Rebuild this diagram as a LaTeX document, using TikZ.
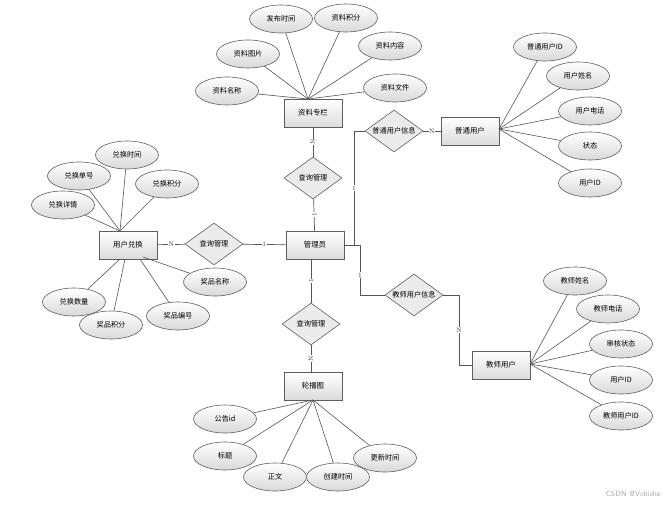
\documentclass[tikz,border=0pt]{standalone}
\usepackage{fontspec}
\newfontfamily\cjk{Noto Sans CJK SC}
\usetikzlibrary{shapes.geometric}
\definecolor{lnc}{HTML}{555555}
\definecolor{bdc}{HTML}{5E5E5E}
\tikzset{
  ent/.style={draw=bdc, line width=0.9pt, top color=white, bottom color=black!14, minimum width=58pt, minimum height=28pt, inner sep=0pt, font=\cjk\fontsize{7.4}{8}\selectfont},
  attr/.style={ellipse, draw=bdc, line width=0.6pt, top color=white, bottom color=black!15, minimum width=63pt, minimum height=28pt, inner sep=0pt, font=\cjk\fontsize{7.2}{8}\selectfont},
  rel/.style={diamond, aspect=1.4, draw=bdc, line width=0.6pt, fill=black!8, minimum width=58pt, minimum height=42pt, inner sep=0pt, font=\cjk\fontsize{7.2}{8}\selectfont},
  cn/.style={draw=lnc, line width=0.7pt},
  al/.style={draw=lnc, line width=0.6pt},
  lab/.style={fill=white, inner sep=0.5pt, font=\fontsize{6.5}{7}\selectfont, text=black!80},
}
\begin{document}
\begin{tikzpicture}[x=1pt,y=-1pt]
\useasboundingbox (0,0) rectangle (670,508);
% entities
\node[ent] (zl) at (313,113) {资料专栏};
\node[ent] (gly) at (315,245) {管理员};
\node[ent] (pt) at (470,131) {普通用户};
\node[ent] (yh) at (128,245) {用户兑换};
\node[ent] (js) at (501,365) {教师用户};
\node[ent] (lb) at (313,386) {轮播图};
% relations
\node[rel] (r1) at (313,178) {查询管理};
\node[rel] (r2) at (214,244) {查询管理};
\node[rel] (r3) at (311,324) {查询管理};
\node[rel] (r4) at (394,131) {普通用户信息};
\node[rel] (r5) at (414,295) {教师用户信息};
% connectors
\draw[cn] (zl) -- node[lab, rotate=90]{N} (r1);
\draw[cn] (r1) -- node[lab, rotate=90]{1} (gly);
\draw[cn] (gly) -- node[lab]{1} (r2);
\draw[cn] (r2) -- node[lab]{N} (yh);
\draw[cn] (gly.south -| r3) -- node[lab, rotate=90]{1} (r3);
\draw[cn] (r3) -- node[lab, rotate=90]{N} (lb.north -| r3);
\coordinate (j1) at (354,245);
\coordinate (j2) at (360,245);
\draw[cn] (gly.east) -- (j2);
\draw[cn] (j1) -- node[lab, pos=0.5]{1} (j1 |- r4) -- (r4.west);
\draw[cn] (r4.east) -- node[lab]{N} (pt.west);
\draw[cn] (j2) -- node[lab, pos=0.6]{1} (j2 |- r5) -- (r5.west);
\coordinate (j3) at (459,295);
\draw[cn] (r5.east) -- (j3) -- node[lab]{N} (j3 |- js) -- (js.west);
% attributes of 资料专栏
\node[attr] (a1) at (281,19) {发布时间};
\node[attr] (a2) at (346,18) {资料积分};
\node[attr] (a3) at (390,46) {资料内容};
\node[attr] (a4) at (248,54) {资料图片};
\node[attr] (a5) at (227,91) {资料名称};
\node[attr] (a6) at (395,88) {资料文件};
\coordinate (zc) at (308,99);
\foreach \a in {a1,a2,a3,a4,a5,a6} \draw[al] (zc) -- (\a);
% attributes of 用户兑换
\node[attr] (b1) at (127,155) {兑换时间};
\node[attr] (b2) at (79,176) {兑换单号};
\node[attr] (b3) at (167,184) {兑换积分};
\node[attr] (b4) at (63,205) {兑换详情};
\node[attr] (b5) at (74,302) {兑换数量};
\node[attr] (b6) at (111,325) {奖品积分};
\node[attr] (b7) at (178,316) {奖品编号};
\node[attr] (b8) at (215,282) {奖品名称};
\coordinate (yc) at (120,231);
\foreach \a in {b1,b2,b3,b4} \draw[al] (yc) -- (\a);
\coordinate (y5) at (120,259);
\coordinate (y6) at (125,259);
\coordinate (y7) at (140,259);
\coordinate (y8) at (143,257);
\draw[al] (y5) -- (b5);
\draw[al] (y6) -- (b6);
\draw[al] (y7) -- (b7);
\draw[al] (y8) -- (b8);
% attributes of 普通用户
\node[attr] (c1) at (545,47) {普通用户ID};
\node[attr] (c2) at (578,76) {用户姓名};
\node[attr] (c3) at (590,111) {用户电话};
\node[attr] (c4) at (590,146) {状态};
\node[attr] (c5) at (590,183) {用户ID};
\coordinate (pc) at (499,129);
\foreach \a in {c1,c2,c3,c4,c5} \draw[al] (pc) -- (\a);
% attributes of 教师用户
\node[attr] (d1) at (575,281) {教师姓名};
\node[attr] (d2) at (608,309) {教师电话};
\node[attr] (d3) at (621,344) {审核状态};
\node[attr] (d4) at (621,380) {用户ID};
\node[attr] (d5) at (621,416) {教师用户ID};
\coordinate (jc) at (530,364);
\foreach \a in {d1,d2,d3,d4,d5} \draw[al] (jc) -- (\a);
% attributes of 轮播图
\node[attr] (e1) at (225,419) {公告id};
\node[attr] (e2) at (225,456) {标题};
\node[attr] (e3) at (275,477) {正文};
\node[attr] (e4) at (338,477) {创建时间};
\node[attr] (e5) at (385,458) {更新时间};
\coordinate (lc) at (313,400);
\foreach \a in {e1,e2,e3,e4,e5} \draw[al] (lc) -- (\a);
% watermark
\node[font=\sffamily\fontsize{7.5}{8}\selectfont, text=black!35, anchor=east] (wm) at (664,494) {CSDN @Vxbishe};
\end{tikzpicture}
\end{document}
